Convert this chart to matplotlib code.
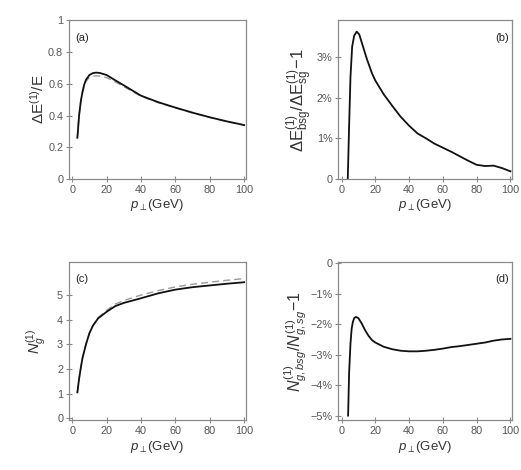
import numpy as np
import matplotlib
matplotlib.use("Agg")
import matplotlib.pyplot as plt

plt.rcParams['font.family'] = ['Liberation Sans', 'DejaVu Sans']
plt.rcParams['mathtext.fontset'] = 'custom'
plt.rcParams['mathtext.rm'] = 'Liberation Sans'
plt.rcParams['mathtext.it'] = 'Liberation Sans:italic'
plt.rcParams['mathtext.bf'] = 'Liberation Sans:bold'

# (a) Delta E / E
pt_a = [3, 4, 5, 6, 7, 8, 10, 12, 14, 16, 20, 25, 30, 40, 50, 60, 70, 80, 90, 100]
dE_solid = [0.26, 0.40, 0.49, 0.55, 0.595, 0.625, 0.655, 0.667, 0.670, 0.668, 0.655,
            0.622, 0.59, 0.525, 0.484, 0.45, 0.418, 0.389, 0.363, 0.34]
dE_dash = [0.26, 0.40, 0.49, 0.55, 0.59, 0.615, 0.64, 0.648, 0.65, 0.648, 0.638,
           0.612, 0.582, 0.521, 0.481, 0.448, 0.416, 0.388, 0.362, 0.339]

# (b) relative difference of Delta E (%)
pt_b = [3.7, 4.5, 5.3, 6.3, 7.5, 9, 10.5, 12, 15, 18, 20, 25, 30, 35, 40, 45, 50,
        55, 60, 65, 70, 75, 80, 85, 90, 95, 100]
dE_rel = [0, 1.3, 2.5, 3.25, 3.52, 3.62, 3.55, 3.35, 2.95, 2.6, 2.42, 2.08, 1.8,
          1.53, 1.31, 1.12, 1.0, 0.87, 0.77, 0.67, 0.56, 0.45, 0.35, 0.32, 0.33,
          0.27, 0.19]

# (c) N_g
pt_c = [3, 4, 5, 6, 8, 10, 12, 15, 20, 25, 30, 40, 50, 60, 70, 80, 90, 100]
Ng_solid = [1.05, 1.6, 2.05, 2.45, 3.0, 3.45, 3.75, 4.05, 4.32, 4.55, 4.68, 4.87,
            5.07, 5.22, 5.32, 5.39, 5.46, 5.52]
Ng_dash = [1.05, 1.6, 2.05, 2.45, 3.0, 3.45, 3.76, 4.08, 4.38, 4.63, 4.78, 5.0,
           5.18, 5.33, 5.44, 5.52, 5.6, 5.67]

# (d) relative difference of N_g (%)
pt_d = [3.9, 4.5, 5.3, 6.0, 6.7, 7.5, 8.5, 10, 12, 14, 16, 18, 20, 25, 30, 35, 40,
        45, 50, 55, 60, 65, 70, 75, 80, 85, 90, 95, 100]
Ng_rel = [-5.0, -3.6, -2.64, -2.15, -1.93, -1.8, -1.76, -1.8, -1.98, -2.2, -2.38,
          -2.52, -2.6, -2.74, -2.82, -2.87, -2.89, -2.89, -2.87, -2.84, -2.8,
          -2.75, -2.72, -2.68, -2.64, -2.6, -2.54, -2.5, -2.48]

xticks = [0, 20, 40, 60, 80, 100]
grey = '#555555'
spine_c = '#8a8a8a'
lab_c = '#333333'

fig = plt.figure(figsize=(5.21, 4.70), dpi=100)
boxes = {
    'a': [0.132, 0.619, 0.340, 0.338],
    'b': [0.649, 0.619, 0.334, 0.338],
    'c': [0.132, 0.106, 0.340, 0.337],
    'd': [0.649, 0.106, 0.334, 0.337],
}
axs = {k: fig.add_axes(v) for k, v in boxes.items()}


def style(ax, tag, right=False):
    for s in ax.spines.values():
        s.set_color(spine_c)
        s.set_linewidth(0.9)
    ax.tick_params(direction='inout', length=5, width=0.8, color=spine_c,
                   labelsize=7.8, labelcolor=grey, pad=1.5)
    ax.set_xticks(xticks)
    ax.set_xlabel(r'$p_{\perp}$(GeV)', fontsize=9.5, color=lab_c, labelpad=2)
    if right:
        ax.text(0.98, 0.89, tag, transform=ax.transAxes, ha='right', va='center',
                fontsize=8, color='#222222')
    else:
        ax.text(0.035, 0.89, tag, transform=ax.transAxes, ha='left', va='center',
                fontsize=8, color='#222222')


ax = axs['a']
ax.plot(pt_a, dE_dash, color='#999999', lw=1.0, ls=(0, (5, 3)))
ax.plot(pt_a, dE_solid, color='#111111', lw=1.3)
ax.set_xlim(-2, 101)
ax.set_ylim(0, 1)
ax.set_yticks([0, 0.2, 0.4, 0.6, 0.8, 1])
ax.set_yticklabels(['0', '0.2', '0.4', '0.6', '0.8', '1'])
ax.set_ylabel(r'$\Delta$E$^{(1)}$/E', fontsize=11, color=lab_c)
ax.yaxis.set_label_coords(-0.125, 0.5)
style(ax, '(a)')

ax = axs['b']
ax.plot(pt_b, dE_rel, color='#111111', lw=1.3)
ax.set_xlim(-2, 101)
ax.set_ylim(0, 3.9)
ax.set_yticks([0, 1, 2, 3])
ax.set_yticklabels(['0', '1%', '2%', '3%'])
ax.set_ylabel(r'$\Delta\mathrm{E}^{(1)}_{\mathrm{bsg}}/\Delta\mathrm{E}^{(1)}_{\mathrm{sg}}\!-\!1$',
              fontsize=12, color=lab_c)
ax.yaxis.set_label_coords(-0.135, 0.5)
style(ax, '(b)', right=True)

ax = axs['c']
ax.plot(pt_c, Ng_dash, color='#999999', lw=1.0, ls=(0, (5, 3)))
ax.plot(pt_c, Ng_solid, color='#111111', lw=1.3)
ax.set_xlim(-2, 101)
ax.set_ylim(-0.08, 6.35)
ax.set_yticks([0, 1, 2, 3, 4, 5])
ax.set_ylabel(r'$N_g^{(1)}$', fontsize=10.5, color=lab_c)
ax.yaxis.set_label_coords(-0.12, 0.5)
style(ax, '(c)')

ax = axs['d']
ax.plot(pt_d, Ng_rel, color='#111111', lw=1.3)
ax.set_xlim(-2, 101)
ax.set_ylim(-5.15, 0.05)
ax.set_yticks([0, -1, -2, -3, -4, -5])
ax.set_yticklabels(['0', '\u22121%', '\u22122%', '\u22123%', '\u22124%', '\u22125%'])
ax.set_ylabel(r'$N^{(1)}_{g,bsg}/N^{(1)}_{g,sg}\!-\!1$', fontsize=11.5, color=lab_c)
ax.yaxis.set_label_coords(-0.17, 0.5)
style(ax, '(d)', right=True)

fig.savefig('out.png', dpi=100)
